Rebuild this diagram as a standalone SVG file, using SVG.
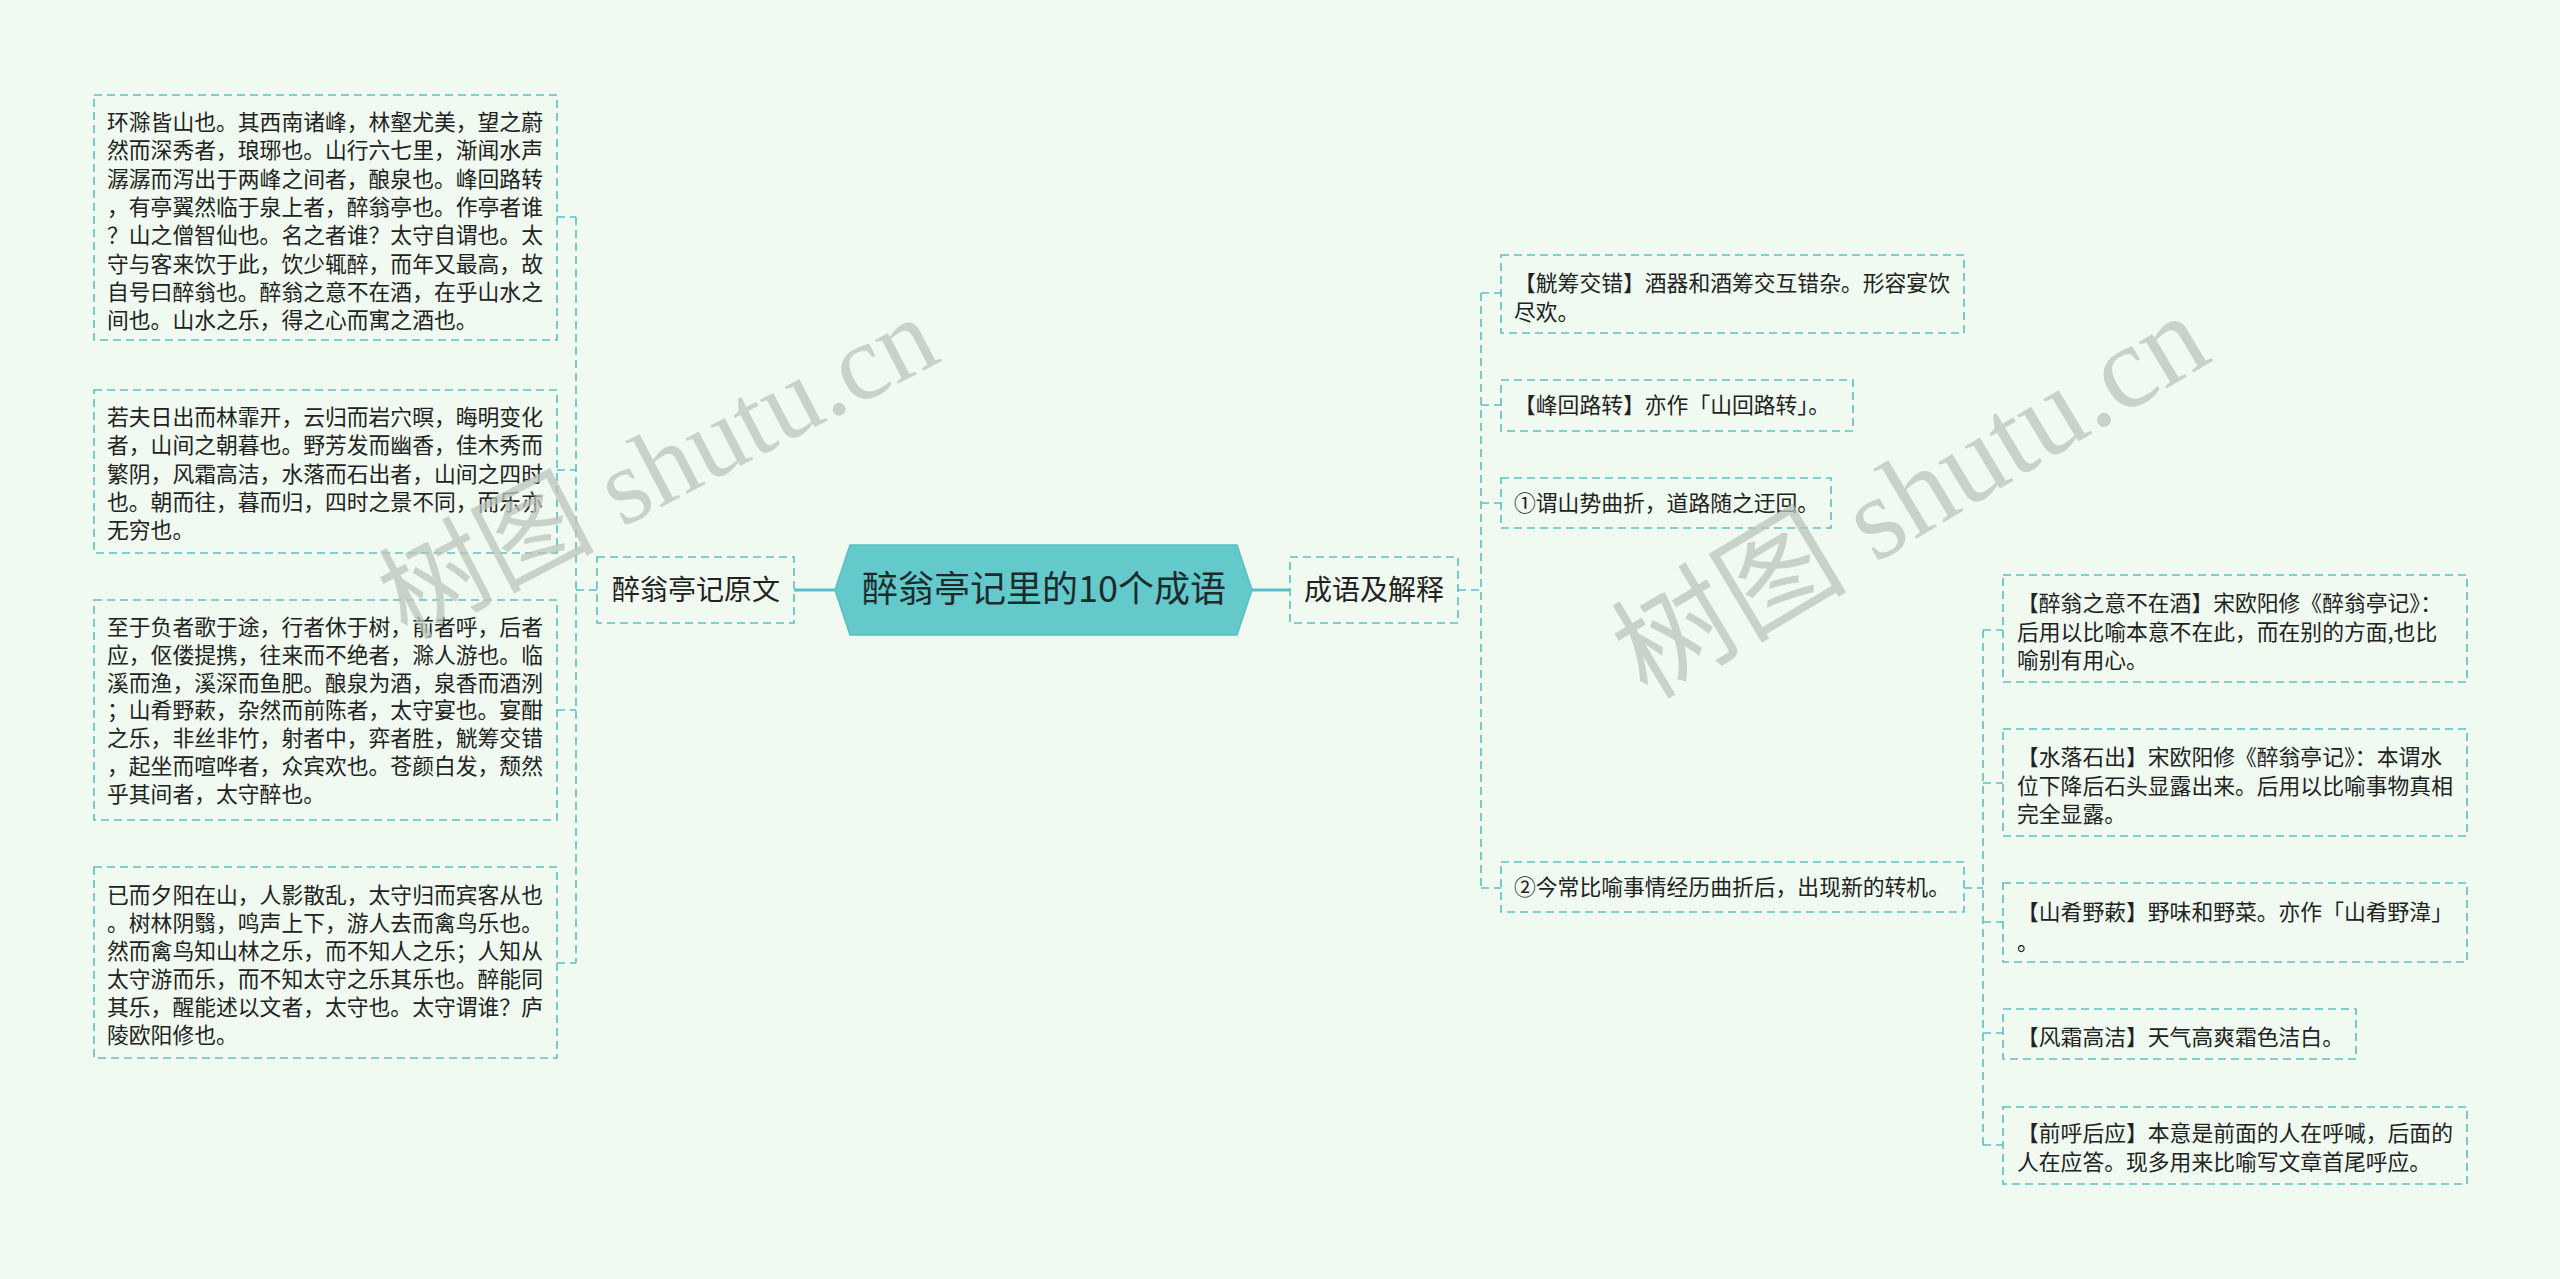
<svg xmlns="http://www.w3.org/2000/svg" width="2560" height="1279" viewBox="0 0 2560 1279">
<style>
.bg{fill:#f0faf0}
.box{fill:none;stroke:#5dbfc3;stroke-width:1.6;stroke-dasharray:8 5}
.con{fill:none;stroke:#5dbfc3;stroke-width:1.6;stroke-dasharray:8 5}
.solid{fill:none;stroke:#5dbfc3;stroke-width:3}
.t{font-family:"Noto Sans CJK SC","Noto Sans",sans-serif;font-size:21.8px;fill:#222}
.h{font-family:"Noto Sans CJK SC","Noto Sans",sans-serif;font-size:28px;fill:#222}
.c{font-family:"Noto Sans CJK SC","Noto Sans",sans-serif;font-size:36px;fill:#1d2b2b}
.wm{font-family:"Liberation Serif","Noto Sans CJK SC",serif;fill:#bcc4bc;fill-opacity:0.75}
</style>
<rect class="bg" x="0" y="0" width="2560" height="1279"/>

<g id="connectors">
<line class="solid" x1="794" y1="590" x2="835" y2="590"/>
<line class="solid" x1="1252" y1="590" x2="1290" y2="590"/>
<path class="con" d="M597 590H576M576 217V963M557 217H576M557 470H576M557 710H576M557 963H576"/>
<path class="con" d="M1458 590H1481M1481 293V888M1481 293H1501M1481 405H1501M1481 503H1501M1481 888H1501"/>
<path class="con" d="M1964 888H1983M1983 630V1145M1983 630H2003M1983 783H2003M1983 922H2003M1983 1033H2003M1983 1145H2003"/>
</g>

<g id="center">
<polygon points="835,590 850,545 1237,545 1252,590 1237,635 850,635" fill="#64c9cb" stroke="#58bfc2" stroke-width="1.5"/>
<text class="c" x="1044" y="602" text-anchor="middle">醉翁亭记里的10个成语</text>
</g>

<g id="n-yuanwen">
<rect class="box" x="597" y="557" width="197" height="66"/>
<text class="h" x="696" y="600" text-anchor="middle">醉翁亭记原文</text>
</g>

<g id="n-chengyu">
<rect class="box" x="1290" y="557" width="168" height="66"/>
<text class="h" x="1374" y="600" text-anchor="middle">成语及解释</text>
</g>

<g id="n-p1">
<rect class="box" x="94" y="95" width="463" height="245"/>
<text class="t">
<tspan x="107" y="130">环滁皆山也。其西南诸峰，林壑尤美，望之蔚</tspan>
<tspan x="107" y="158.3">然而深秀者，琅琊也。山行六七里，渐闻水声</tspan>
<tspan x="107" y="186.6">潺潺而泻出于两峰之间者，酿泉也。峰回路转</tspan>
<tspan x="107" y="214.9">，有亭翼然临于泉上者，醉翁亭也。作亭者谁</tspan>
<tspan x="107" y="243.2">？山之僧智仙也。名之者谁？太守自谓也。太</tspan>
<tspan x="107" y="271.5">守与客来饮于此，饮少辄醉，而年又最高，故</tspan>
<tspan x="107" y="299.8">自号曰醉翁也。醉翁之意不在酒，在乎山水之</tspan>
<tspan x="107" y="328.1">间也。山水之乐，得之心而寓之酒也。</tspan>
</text>
</g>

<g id="n-p2">
<rect class="box" x="94" y="390" width="463" height="163"/>
<text class="t">
<tspan x="107" y="425">若夫日出而林霏开，云归而岩穴暝，晦明变化</tspan>
<tspan x="107" y="453.3">者，山间之朝暮也。野芳发而幽香，佳木秀而</tspan>
<tspan x="107" y="481.6">繁阴，风霜高洁，水落而石出者，山间之四时</tspan>
<tspan x="107" y="509.9">也。朝而往，暮而归，四时之景不同，而乐亦</tspan>
<tspan x="107" y="538.2">无穷也。</tspan>
</text>
</g>

<g id="n-p3">
<rect class="box" x="94" y="600" width="463" height="220"/>
<text class="t">
<tspan x="107" y="635">至于负者歌于途，行者休于树，前者呼，后者</tspan>
<tspan x="107" y="662.8">应，伛偻提携，往来而不绝者，滁人游也。临</tspan>
<tspan x="107" y="690.6">溪而渔，溪深而鱼肥。酿泉为酒，泉香而酒洌</tspan>
<tspan x="107" y="718.4">；山肴野蔌，杂然而前陈者，太守宴也。宴酣</tspan>
<tspan x="107" y="746.2">之乐，非丝非竹，射者中，弈者胜，觥筹交错</tspan>
<tspan x="107" y="774">，起坐而喧哗者，众宾欢也。苍颜白发，颓然</tspan>
<tspan x="107" y="801.8">乎其间者，太守醉也。</tspan>
</text>
</g>

<g id="n-p4">
<rect class="box" x="94" y="867" width="463" height="191"/>
<text class="t">
<tspan x="107" y="903">已而夕阳在山，人影散乱，太守归而宾客从也</tspan>
<tspan x="107" y="931">。树林阴翳，鸣声上下，游人去而禽鸟乐也。</tspan>
<tspan x="107" y="959">然而禽鸟知山林之乐，而不知人之乐；人知从</tspan>
<tspan x="107" y="987">太守游而乐，而不知太守之乐其乐也。醉能同</tspan>
<tspan x="107" y="1015">其乐，醒能述以文者，太守也。太守谓谁？庐</tspan>
<tspan x="107" y="1043">陵欧阳修也。</tspan>
</text>
</g>

<g id="n-gongchou">
<rect class="box" x="1501" y="255" width="463" height="78"/>
<text class="t">
<tspan x="1514" y="291">【觥筹交错】酒器和酒筹交互错杂。形容宴饮</tspan>
<tspan x="1514" y="320">尽欢。</tspan>
</text>
</g>

<g id="n-fenghui">
<rect class="box" x="1501" y="380" width="352" height="51"/>
<text class="t" x="1514" y="413">【峰回路转】亦作「山回路转」。</text>
</g>

<g id="n-yi1">
<rect class="box" x="1501" y="478" width="330" height="50"/>
<text class="t" x="1514" y="511">①谓山势曲折，道路随之迂回。</text>
</g>

<g id="n-yi2">
<rect class="box" x="1501" y="862" width="463" height="50"/>
<text class="t" x="1514" y="895">②今常比喻事情经历曲折后，出现新的转机。</text>
</g>

<g id="n-zuiweng">
<rect class="box" x="2003" y="575" width="464" height="107"/>
<text class="t">
<tspan x="2017" y="611">【醉翁之意不在酒】宋欧阳修《醉翁亭记》：</tspan>
<tspan x="2017" y="639.5">后用以比喻本意不在此，而在别的方面,也比</tspan>
<tspan x="2017" y="668">喻别有用心。</tspan>
</text>
</g>

<g id="n-shuiluo">
<rect class="box" x="2003" y="729" width="464" height="107"/>
<text class="t">
<tspan x="2017" y="765">【水落石出】宋欧阳修《醉翁亭记》：本谓水</tspan>
<tspan x="2017" y="793.5">位下降后石头显露出来。后用以比喻事物真相</tspan>
<tspan x="2017" y="822">完全显露。</tspan>
</text>
</g>

<g id="n-shanyao">
<rect class="box" x="2003" y="883" width="464" height="79"/>
<text class="t">
<tspan x="2017" y="920">【山肴野蔌】野味和野菜。亦作「山肴野湋」</tspan>
<tspan x="2017" y="950">。</tspan>
</text>
</g>

<g id="n-fengshuang">
<rect class="box" x="2003" y="1009" width="353" height="50"/>
<text class="t" x="2017" y="1045">【风霜高洁】天气高爽霜色洁白。</text>
</g>

<g id="n-qianhu">
<rect class="box" x="2003" y="1107" width="464" height="77"/>
<text class="t">
<tspan x="2017" y="1141">【前呼后应】本意是前面的人在呼喊，后面的</tspan>
<tspan x="2017" y="1170">人在应答。现多用来比喻写文章首尾呼应。</tspan>
</text>
</g>

<text class="wm" font-size="108" text-anchor="middle" transform="translate(675,500) rotate(-27.5)">树图 shutu.cn</text>
<text class="wm" font-size="118" text-anchor="middle" transform="translate(1931,530) rotate(-31)">树图 shutu.cn</text>
</svg>
